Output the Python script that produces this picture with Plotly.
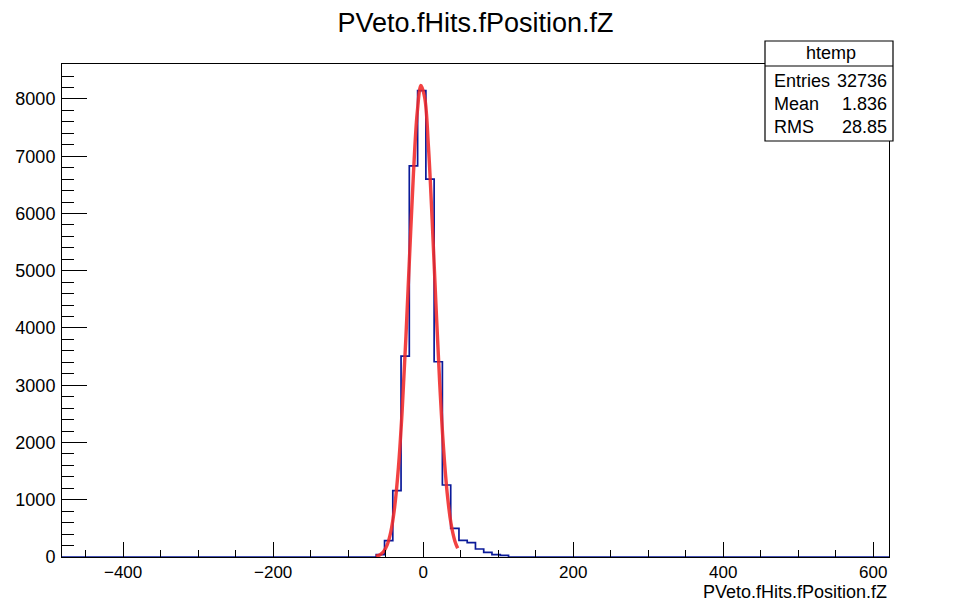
import plotly.graph_objects as go

# ---------------- data ----------------
chart_title = "PVeto.fHits.fPosition.fZ"
axis_title_x = "PVeto.fHits.fPosition.fZ"
x_range = [-481.5, 621.0]
y_top = 8611

bin_edges = [-62.6, -51.5, -40.5, -29.5, -18.5, -7.4, 3.6, 14.6, 25.6,
             36.7, 47.7, 58.7, 69.7, 80.7, 91.7, 102.8, 113.8]
bin_counts = [40, 285, 1160, 3510, 6830, 8145, 6600, 3410, 1258,
              500, 290, 250, 140, 80, 40, 30]

fit_x = [-63, -58, -53, -48, -43, -38, -33, -28, -23, -18, -13, -8, -3,
         2, 7, 12, 17, 22, 27, 32, 37, 42, 46]
fit_y = [13, 36, 92, 212, 450, 876, 1564, 2561, 3847, 5298, 6692, 7752, 8236,
         8025, 7171, 5877, 4418, 3045, 1926, 1116, 593, 290, 153]

stats_name = "htemp"
stats_labels = ["Entries", "Mean", "RMS"]
stats_values = ["32736", "1.836", "28.85"]

x_tick_vals = [-400, -200, 0, 200, 400, 600]
y_tick_vals = [0, 1000, 2000, 3000, 4000, 5000, 6000, 7000, 8000]

# ---------------- layout helpers ----------------
W, H = 976, 603
L, R, T, B = 62, 889, 64, 557
FONT = "Liberation Sans, Arial, Helvetica, sans-serif"


def px(x):
    return (x - L) / (R - L)


def py(y):
    return (B - y) / (B - T)


# step outline of histogram
step_x = [x_range[0]] + bin_edges + [x_range[1]]
step_y = [0] + bin_counts + [0, 0]

fig = go.Figure()
fig.add_trace(go.Scatter(
    x=step_x, y=step_y, mode="lines", line_shape="hv",
    line=dict(color="#0a1a99", width=1.7), hoverinfo="skip", showlegend=False))
fig.add_trace(go.Scatter(
    x=fit_x, y=fit_y, mode="lines", line_shape="spline",
    line=dict(color="rgba(240,40,40,0.88)", width=3.4),
    hoverinfo="skip", showlegend=False))

fig.update_layout(
    width=W, height=H,
    margin=dict(l=L, r=W - R, t=T, b=H - B, pad=0),
    paper_bgcolor="white", plot_bgcolor="white",
    font=dict(family=FONT, size=18, color="black"),
    showlegend=False,
    title=dict(text=chart_title, x=0.5, xref="paper", xanchor="center",
               y=1 - 23 / H, yref="container", yanchor="middle",
               font=dict(family=FONT, size=27, color="black")),
)

fig.update_xaxes(
    range=x_range, showgrid=False, zeroline=False,
    showline=True, linecolor="black", linewidth=1, mirror=True,
    ticks="inside", ticklen=15, tickwidth=1, tickcolor="black",
    tickvals=x_tick_vals, ticktext=[("\u2212" + str(-v)) if v < 0 else str(v) for v in x_tick_vals],
    minor=dict(ticks="inside", ticklen=7, dtick=50, tick0=0, tickcolor="black", tickwidth=1),
    tickfont=dict(family=FONT, size=17, color="black"),
    ticklabelstandoff=0,
)
fig.update_yaxes(
    range=[0, y_top], showgrid=False, zeroline=False,
    showline=True, linecolor="black", linewidth=1, mirror=True,
    ticks="inside", ticklen=25, tickwidth=1, tickcolor="black",
    tickvals=y_tick_vals, ticktext=[str(v) for v in y_tick_vals],
    minor=dict(ticks="inside", ticklen=12, dtick=200, tick0=0, tickcolor="black", tickwidth=1),
    tickfont=dict(family=FONT, size=18, color="black"),
    ticklabelstandoff=2,
)

# axis title (ROOT style, right aligned under the axis)
fig.add_annotation(text=axis_title_x, xref="paper", yref="paper",
                   x=px(888), y=py(603), xanchor="right", yanchor="bottom",
                   borderpad=0,
                   showarrow=False, font=dict(family=FONT, size=18, color="black"))

# stats box
bx0, bx1, by0, by1 = 765, 893, 41, 141
fig.add_shape(type="rect", xref="paper", yref="paper",
              x0=px(bx0), x1=px(bx1), y0=py(by1), y1=py(by0),
              line=dict(color="black", width=1.2), fillcolor="white", layer="above")
fig.add_shape(type="line", xref="paper", yref="paper",
              x0=px(bx0), x1=px(bx1), y0=py(66), y1=py(66),
              line=dict(color="black", width=1.2), layer="above")
fig.add_annotation(text=stats_name, xref="paper", yref="paper",
                   x=px((bx0 + bx1) / 2 + 2), y=py(53), xanchor="center", yanchor="middle",
                   showarrow=False, font=dict(family=FONT, size=18, color="black"))
row_y = [81, 104, 127]
for lab, val, yy in zip(stats_labels, stats_values, row_y):
    fig.add_annotation(text=lab, xref="paper", yref="paper",
                       x=px(773), y=py(yy), xanchor="left", yanchor="middle",
                       borderpad=0,
                       showarrow=False, font=dict(family=FONT, size=18, color="black"))
    fig.add_annotation(text=val, xref="paper", yref="paper",
                       x=px(888), y=py(yy), xanchor="right", yanchor="middle",
                       borderpad=0,
                       showarrow=False, font=dict(family=FONT, size=18, color="black"))

fig.write_html("out.html")
